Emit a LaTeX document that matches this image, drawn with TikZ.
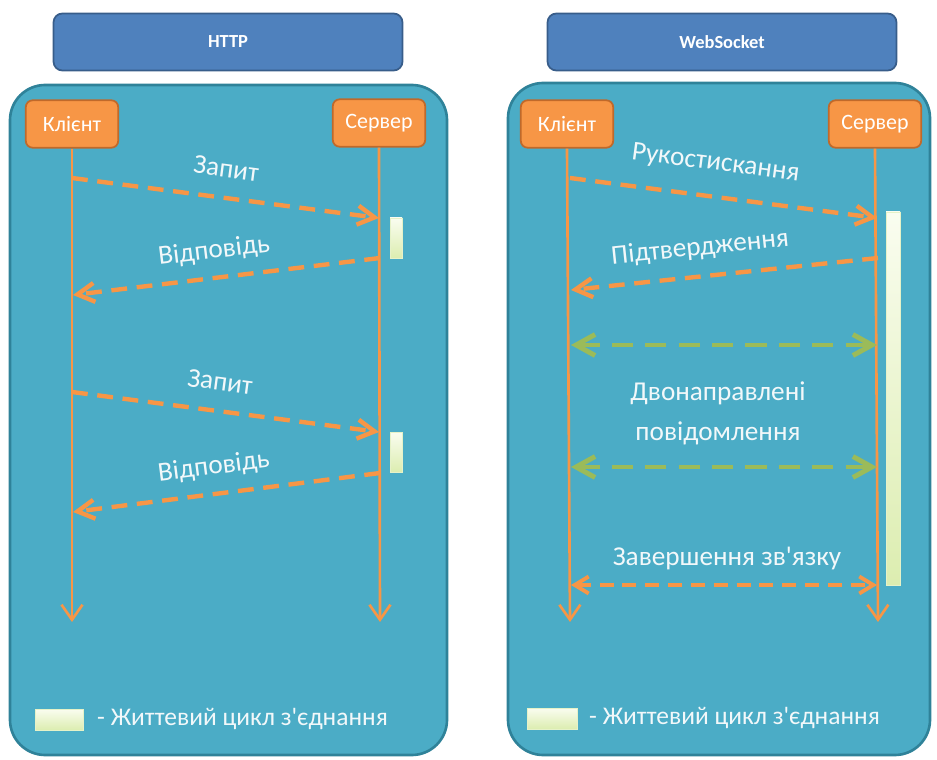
\documentclass[tikz,border=0pt]{standalone}
\usepackage{fontspec}
\setmainfont{Carlito}[Ligatures=TeXOff]
\usetikzlibrary{arrows.meta,positioning}
\definecolor{panelblue}{HTML}{4BACC6}
\definecolor{paneledge}{HTML}{2F8299}
\definecolor{titleblue}{HTML}{4F81BD}
\definecolor{titleedge}{HTML}{385D8A}
\definecolor{actorfill}{HTML}{F79646}
\definecolor{actoredge}{HTML}{C0692A}
\definecolor{msggreen}{HTML}{9BBB59}
\definecolor{lifetop}{HTML}{FAFDF0}
\definecolor{lifebot}{HTML}{DCEDB0}
\definecolor{textwhite}{HTML}{F2F8FA}
\tikzset{%
  panel/.style    = {draw=paneledge, line width=1.5pt, fill=panelblue, rounded corners=20pt},
  titlebox/.style = {draw=titleedge, line width=1pt, fill=titleblue, rounded corners=5pt,
    minimum width=6.98cm, minimum height=1.14cm, text=white,
    font=\bfseries\fontsize{10.5}{13}\selectfont},
  actor/.style    = {draw=actoredge, line width=1pt, fill=actorfill, rounded corners=4pt,
    minimum width=1.85cm, minimum height=0.95cm, text=white,
    font=\fontsize{12.5}{14}\selectfont}, % Client / server
  lifeline/.style = {draw=actorfill, line width=1.5pt,
    -{Straight Barb[length=3mm,width=4.2mm]}},
  msg/.style      = {draw=actorfill, line width=2.5pt, dash pattern=on 9pt off 5.5pt,
    -{Straight Barb[length=3.4mm,width=3.8mm]}},
  duplex/.style   = {draw=msggreen, line width=2.8pt, dash pattern=on 12pt off 7pt,
    {Straight Barb[length=3.8mm,width=4.2mm]}-{Straight Barb[length=3.8mm,width=4.2mm]}},
  closing/.style  = {draw=actorfill, line width=2.2pt, dash pattern=on 8pt off 5pt,
    {Straight Barb[length=2.8mm,width=3.4mm]}-{Straight Barb[length=2.8mm,width=3.4mm]}},
  lbl/.style      = {text=textwhite, font=\fontsize{15.5}{22.7}\selectfont},
  legend/.style   = {text=textwhite, font=\fontsize{14.5}{16}\selectfont, anchor=west},
  life/.style     = {draw=lifebot!70!white, line width=0.4pt,
    top color=lifetop, bottom color=lifebot}
}

\begin{document}
\begin{tikzpicture}[x=0.02cm, y=-0.02cm]
  \useasboundingbox (0,0) rectangle (937,760);

  % HTTP
  \draw[panel] (10,85) rectangle (447,755);
  \draw node at (228,42) [titlebox] (thttp) {HTTP};
  \draw node at (72,124) [actor] (hc) {Клієнт};
  \draw node at (379,123) [actor] (hs) {Сервер};
  \coordinate (hcend) at (72,622);
  \coordinate (hsend) at (380,622);
  \draw[lifeline] (hc.south) -- (hcend);
  \draw[lifeline] (hs.south) -- (hsend);

  \coordinate (hq1a) at (72,178);  \coordinate (hq1b) at (379,218);
  \coordinate (hr1a) at (380,258); \coordinate (hr1b) at (73,295);
  \coordinate (hq2a) at (72,392);  \coordinate (hq2b) at (379,432);
  \coordinate (hr2a) at (380,473); \coordinate (hr2b) at (73,512);
  \draw[msg] (hq1a) -- node[lbl, sloped, above=7pt, pos=0.49] {Запит} (hq1b);
  \draw[msg] (hr1a) -- node[lbl, sloped, above=4pt, pos=0.53] {Відповідь} (hr1b);
  \draw[msg] (hq2a) -- node[lbl, sloped, above=7pt, pos=0.47] {Запит} (hq2b);
  \draw[msg] (hr2a) -- node[lbl, sloped, above=4pt, pos=0.53] {Відповідь} (hr2b);
  \shade[life] (390,218) rectangle (402,258);
  \shade[life] (390,432) rectangle (402,472);

  \shade[life] (35,709) rectangle (83,730);
  \draw node at (91,719) [legend] (hleg) {- Життевий цикл з'єднання};

  % WebSocket
  \draw[panel] (508,83) rectangle (930,755);
  \draw node at (722,42) [titlebox] (tws) {WebSocket};
  \draw node at (567,124) [actor] (wc) {Клієнт};
  \draw node at (875,124) [actor] (ws) {Сервер};
  \coordinate (wcend) at (570,622);
  \coordinate (wsend) at (878,622);
  \draw[lifeline] (wc.south) -- (wcend);
  \draw[lifeline] (ws.south) -- (wsend);
  \shade[life] (886,212) rectangle (900,585);

  \coordinate (wh1) at (570,178); \coordinate (wh2) at (877,218);
  \coordinate (wa1) at (878,258); \coordinate (wa2) at (571,290);
  \coordinate (wd1) at (571,345); \coordinate (wd2) at (877,345);
  \coordinate (we1) at (571,467); \coordinate (we2) at (877,467);
  \coordinate (wf1) at (571,585); \coordinate (wf2) at (877,585);
  \draw[msg] (wh1) -- node[lbl, sloped, above=8pt, pos=0.46] {Рукостискання} (wh2);
  \draw[msg] (wa1) -- node[lbl, sloped, above=5pt, pos=0.57] {Підтвердження} (wa2);
  \draw[duplex] (wd1) -- (wd2);
  \draw[duplex] (we1) -- (we2);
  \draw[closing] (wf1) -- (wf2);
  \draw node at (718,413) [lbl, align=center] (wmsg) {Двонаправлені\\повідомлення};
  \draw node at (727,558) [lbl] (wend) {Завершення зв'язку};

  \shade[life] (527,708) rectangle (577,729);
  \draw node at (583,718) [legend] (wleg) {- Життевий цикл з'єднання};
\end{tikzpicture}
\end{document}
